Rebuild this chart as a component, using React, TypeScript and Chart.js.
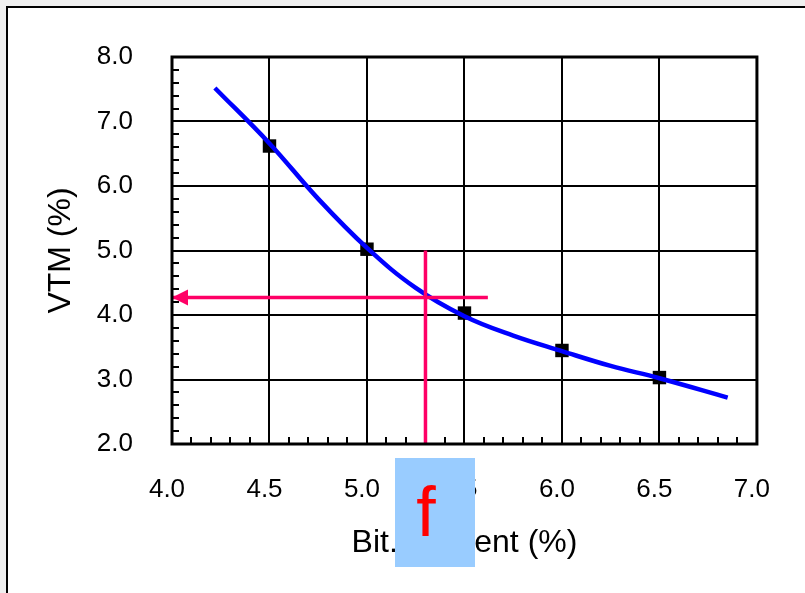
import React, { useEffect, useRef } from "react";
import { Chart, registerables } from "chart.js";

Chart.register(...registerables);

// Measured marker points (Bit. content %, VTM %)
const markerX = [4.5, 5.0, 5.5, 6.0, 6.5];
const markerY = [6.62, 5.02, 4.03, 3.45, 3.03];

// Points
const curveX = [4.22, 4.5, 4.75, 5.0, 5.25, 5.5, 5.75, 6.0, 6.25, 6.5, 6.85];
const curveY = [7.52, 6.66, 5.8, 5.04, 4.42, 3.98, 3.68, 3.44, 3.21, 3.02, 2.72];

// Pink construction lines
const vLineX = [5.3, 5.3];
const vLineY = [5.0, 2.0];
const hLineX = [5.62, 4.0];
const hLineY = [4.27, 4.27];

// Axis ranges / ticks
const xMin = 4.0;
const xMax = 7.0;
const xStep = 0.5;
const xMinorStep = 0.1;
const yMin = 2.0;
const yMax = 8.0;
const yStep = 1.0;
const yMinorStep = 0.2;

const xTitle = "Bit. Content (%)";
const yTitle = "VTM (%)";
const tagText = "f";

const FONT = "'Liberation Sans', Arial, sans-serif";
const PINK = "#ff0066";

const toXY = (xs: number[], ys: number[]) => xs.map((x, i) => ({ x, y: ys[i] }));

const decorPlugin = {
  id: "decor",
  beforeDatasetsDraw(chart: any) {
    const { ctx, chartArea } = chart;
    const xs = chart.scales.x;
    const ys = chart.scales.y;
    ctx.save();
    ctx.strokeStyle = "#000";
    ctx.lineWidth = 2;
    const nx = Math.round((xMax - xMin) / xMinorStep);
    for (let i = 1; i < nx; i++) {
      const v = xMin + i * xMinorStep;
      const px = Math.round(xs.getPixelForValue(v));
      ctx.beginPath();
      ctx.moveTo(px, chartArea.bottom);
      ctx.lineTo(px, chartArea.bottom - 7);
      ctx.stroke();
    }
    const ny = Math.round((yMax - yMin) / yMinorStep);
    for (let i = 1; i < ny; i++) {
      const v = yMin + i * yMinorStep;
      const py = Math.round(ys.getPixelForValue(v));
      ctx.beginPath();
      ctx.moveTo(chartArea.left, py);
      ctx.lineTo(chartArea.left + 7, py);
      ctx.stroke();
    }
    ctx.restore();
  },
  afterDatasetsDraw(chart: any) {
    const { ctx, chartArea } = chart;
    const xs = chart.scales.x;
    const ys = chart.scales.y;
    ctx.save();
    const tipX = xs.getPixelForValue(hLineX[1]);
    const tipY = ys.getPixelForValue(hLineY[1]);
    ctx.fillStyle = PINK;
    ctx.beginPath();
    ctx.moveTo(tipX, tipY);
    ctx.lineTo(tipX + 16, tipY - 8);
    ctx.lineTo(tipX + 16, tipY + 8);
    ctx.closePath();
    ctx.fill();
    ctx.strokeStyle = "#000";
    ctx.lineWidth = 3;
    ctx.strokeRect(chartArea.left, chartArea.top, chartArea.right - chartArea.left, chartArea.bottom - chartArea.top);
    ctx.restore();
  },
};

export default function App() {
  const ref = useRef<HTMLCanvasElement | null>(null);

  useEffect(() => {
    if (!ref.current) return;
    const chart = new Chart(ref.current, {
      type: "scatter",
      data: {
        datasets: [
          {
            type: "line",
            label: "hline",
            data: toXY(hLineX, hLineY),
            borderColor: PINK,
            borderWidth: 3.5,
            pointRadius: 0,
            order: -1,
          } as any,
          {
            type: "line",
            label: "vline",
            data: toXY(vLineX, vLineY),
            borderColor: PINK,
            borderWidth: 3.5,
            pointRadius: 0,
            order: -1,
          } as any,
          {
            type: "line",
            label: "curve",
            data: toXY(curveX, curveY),
            borderColor: "#0000ff",
            borderWidth: 4.5,
            pointRadius: 0,
            tension: 0.4,
            order: 0,
          } as any,
          {
            label: "VTM",
            data: toXY(markerX, markerY),
            pointStyle: "rect",
            pointRadius: 9.5,
            backgroundColor: "#000",
            borderColor: "#000",
            borderWidth: 0,
            order: 1,
          } as any,
        ],
      },
      options: {
        animation: false,
        responsive: false,
        devicePixelRatio: 1,
        layout: { padding: { top: 57, left: 42, right: 43, bottom: 31 } },
        plugins: { legend: { display: false }, tooltip: { enabled: false } },
        scales: {
          x: {
            type: "linear",
            min: xMin,
            max: xMax,
            afterFit: (s: any) => {
              s.height = 118;
            },
            afterBuildTicks: (s: any) => {
              const t = [];
              for (let i = 0; i <= Math.round((xMax - xMin) / xStep); i++) t.push({ value: xMin + i * xStep });
              s.ticks = t;
            },
            ticks: {
              stepSize: xStep,
              padding: 30,
              labelOffset: -5,
              color: "#000",
              font: { family: FONT, size: 26 },
              callback: (v: any) => Number(v).toFixed(1),
              maxRotation: 0,
            },
            grid: { color: "#000", lineWidth: 2, drawTicks: false },
            border: { display: false },
            title: {
              display: true,
              text: xTitle,
              color: "#000",
              font: { family: FONT, size: 32 },
              padding: 0,
            },
          },
          y: {
            type: "linear",
            min: yMin,
            max: yMax,
            afterFit: (s: any) => {
              s.width = 130;
            },
            ticks: {
              stepSize: yStep,
              padding: 39,
              color: "#000",
              font: { family: FONT, size: 26 },
              callback: (v: any) => Number(v).toFixed(1),
            },
            grid: { color: "#000", lineWidth: 2, drawTicks: false },
            border: { display: false },
            title: {
              display: true,
              text: yTitle,
              color: "#000",
              font: { family: FONT, size: 32 },
              padding: 0,
            },
          },
        },
      },
      plugins: [decorPlugin],
    });
    return () => chart.destroy();
  }, []);

  return (
    <div
      style={{
        position: "absolute",
        left: 0,
        top: 0,
        width: 805,
        height: 593,
        overflow: "hidden",
        background: "#efefef",
      }}
    >
      <div
        style={{
          position: "absolute",
          left: 6,
          top: 6,
          width: 820,
          height: 610,
          background: "#fff",
          borderLeft: "2.5px solid #000",
          borderTop: "2.5px solid #000",
          boxSizing: "border-box",
        }}
      />
      <canvas
        ref={ref}
        width={805}
        height={593}
        style={{ position: "absolute", left: 0, top: 0, width: 805, height: 593 }}
      />
      <div
        style={{
          position: "absolute",
          left: 395,
          top: 458,
          width: 80,
          height: 109,
          background: "#99ccff",
          color: "#ff0000",
          fontFamily: FONT,
          fontSize: 70,
          lineHeight: "109px",
          textAlign: "center",
          paddingRight: 18,
          boxSizing: "border-box",
        }}
      >
        {tagText}
      </div>
    </div>
  );
}
